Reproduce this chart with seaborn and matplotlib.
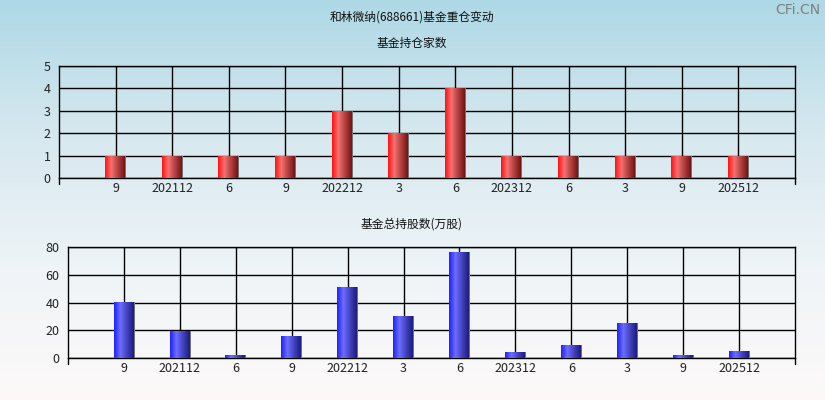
import numpy as np
import pandas as pd
import matplotlib
matplotlib.use("Agg")
import matplotlib.pyplot as plt
from matplotlib.colors import LinearSegmentedColormap
import seaborn as sns

periods = ["202109", "202112", "202206", "202209", "202212", "202303",
           "202306", "202312", "202406", "202503", "202509", "202512"]
tick_labels = ["9", "202112", "6", "9", "202212", "3", "6", "202312", "6", "3", "9", "202512"]
fund_counts = [1, 1, 1, 1, 3, 2, 4, 1, 1, 1, 1, 1]
fund_shares = [40.6, 19.4, 1.9, 16.1, 51.4, 30.5, 76.6, 4.5, 9.6, 25.4, 2.4, 5.2]

title = "和林微纳(688661)基金重仓变动"
sub1 = "基金持仓家数"
sub2 = "基金总持股数(万股)"

sns.set_theme(style="white")
plt.rcParams['font.family'] = ['Noto Sans CJK SC', 'DejaVu Sans']

fig = plt.figure(figsize=(8.25, 4.0), dpi=100)

# background gradient
bg = fig.add_axes([0, 0, 1, 1], zorder=-10)
bg_cmap = LinearSegmentedColormap.from_list("bg", ["#aed8e6", "#d6e8ef", "#eef4f7", "#fdf9f9"])
bg.imshow(np.linspace(0, 1, 256).reshape(-1, 1), aspect="auto", cmap=bg_cmap,
          extent=[0, 1, 0, 1], origin="upper")
bg.set_axis_off()

red_cmap = LinearSegmentedColormap.from_list(
    "red", [(0, "#ff1010"), (0.3, "#f47070"), (0.94, "#741414"), (0.95, "#6a6a6a"), (1, "#7a7a7a")])
blue_cmap = LinearSegmentedColormap.from_list(
    "blue", [(0, "#1e1eff"), (0.3, "#6c6cff"), (0.94, "#1c1c80"), (0.95, "#6a6a6a"), (1, "#7a7a7a")])

def draw(ax, vals, cmap, ylim, yticks):
    df = pd.DataFrame({"period": periods, "value": vals})
    sns.barplot(data=df, x="period", y="value", order=periods, ax=ax,
                width=0.37, color="#ff0000", zorder=3, saturation=1)
    grad = np.linspace(0, 1, 128).reshape(1, -1)
    for p in ax.patches:
        x0, y0 = p.get_x(), p.get_y()
        w, h = p.get_width(), p.get_height()
        if h <= 0:
            continue
        p.set_facecolor("none")
        p.set_edgecolor("none")
        im = ax.imshow(grad, aspect="auto", cmap=cmap, extent=[x0, x0 + w, y0, y0 + h],
                       zorder=3, interpolation="nearest")
        im.set_clip_path(p)
    ax.set_xlim(-1, 12)
    ax.set_ylim(*ylim)
    ax.set_yticks(yticks)
    ax.set_xticks(range(len(periods)))
    ax.set_xticklabels(tick_labels)
    ax.set_xlabel("")
    ax.set_ylabel("")
    ax.set_facecolor("none")
    ax.grid(True, color="black", linewidth=1.0, zorder=1)
    ax.set_axisbelow(True)
    for s in ax.spines.values():
        s.set_color("black")
        s.set_linewidth(1.0)
    ax.tick_params(axis="both", labelsize=9, colors="#222222", length=0, pad=3)
    ax.tick_params(axis="y", length=4, direction="out", color="black", width=1, pad=2)
    # end ticks below the axis
    ax.plot([-1, -1], [ylim[0], ylim[0] - (ylim[1] - ylim[0]) * 0.055], color="black",
            lw=1, clip_on=False, zorder=5)
    ax.plot([12, 12], [ylim[0], ylim[0] - (ylim[1] - ylim[0]) * 0.055], color="black",
            lw=1, clip_on=False, zorder=5)

ax1 = fig.add_axes([59 / 825, 1 - 178 / 400, (795 - 59) / 825, (178 - 66) / 400])
draw(ax1, fund_counts, red_cmap, (0, 5), [0, 1, 2, 3, 4, 5])

ax2 = fig.add_axes([68 / 825, 1 - 358 / 400, (795 - 68) / 825, (358 - 247) / 400])
draw(ax2, fund_shares, blue_cmap, (0, 80), [0, 20, 40, 60, 80])

fig.text(412 / 825, 1 - 17 / 400, title, ha="center", va="center", fontsize=8.5, color="#111111")
fig.text(412 / 825, 1 - 43 / 400, sub1, ha="center", va="center", fontsize=8.5, color="#111111")
fig.text(412 / 825, 1 - 224 / 400, sub2, ha="center", va="center", fontsize=8.5, color="#111111")
fig.text(820 / 825, 1 - 10 / 400, "CFi.CN", ha="right", va="center", fontsize=10,
         color="#808080", family=["DejaVu Sans"])

fig.savefig("out.png", dpi=100)
